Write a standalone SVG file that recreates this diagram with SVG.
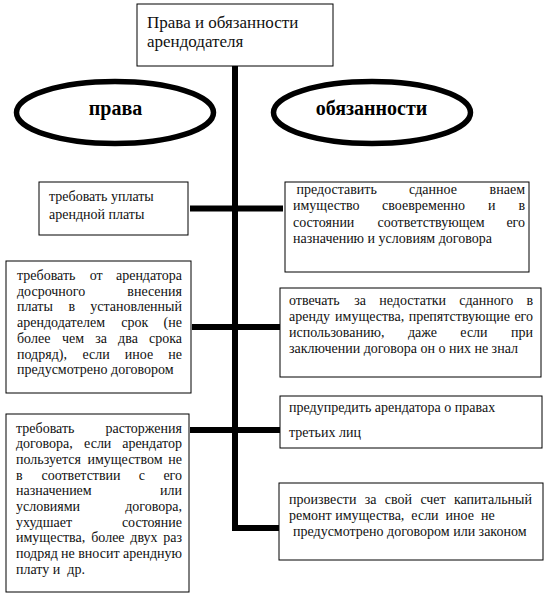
<svg xmlns="http://www.w3.org/2000/svg" width="546" height="596" viewBox="0 0 546 596">
<style>
.box{fill:#fff;stroke:#000;stroke-width:1}
.t{font-family:'Liberation Serif','Tinos','DejaVu Serif','Noto Serif',serif;font-size:14px;fill:#111}
.e{text-anchor:end}
.ttl{font-family:'Liberation Serif','Tinos','DejaVu Serif','Noto Serif',serif;font-size:17px;fill:#111}
.ov{fill:#fff;stroke:#000;stroke-width:5.5}
.ot{font-family:'Liberation Serif','Tinos','DejaVu Serif','Noto Serif',serif;font-size:20px;font-weight:bold;fill:#000;text-anchor:middle}
.conn{fill:none;stroke:#000;stroke-width:6;stroke-linejoin:miter}
</style>
<rect width="546" height="596" fill="#fff"/>
<g id="connectors">
<path class="conn" d="M235 66 V528 H279"/>
<path class="conn" d="M190 208.5 H283"/>
<path class="conn" d="M192 327 H280"/>
<path class="conn" d="M190 430 H280"/>
</g>
<g id="title">
<rect class="box" x="137" y="4" width="196" height="62"/>
<text class="ttl" x="147" y="27.5">Права и обязанности</text>
<text class="ttl" x="147" y="47">арендодателя</text>
</g>
<g id="rights">
<ellipse class="ov" cx="115" cy="112.5" rx="98.5" ry="31"/>
<text class="ot" x="115.5" y="115">права</text>
</g>
<g id="duties">
<ellipse class="ov" cx="372" cy="112.5" rx="98.5" ry="31"/>
<text class="ot" x="371.5" y="115">обязанности</text>
</g>
<g id="left1">
<rect class="box" x="39" y="182" width="149" height="53"/>
<text class="t" x="49" y="201">требовать уплаты</text>
<text class="t" x="49" y="219">арендной платы</text>
</g>
<g id="left2">
<rect class="box" x="6" y="261" width="185" height="132"/>
<text class="t" x="17" y="280">требовать</text>
<text class="t e" x="182" y="280" word-spacing="9.75">от арендатора</text>
<text class="t" x="17" y="295.7">досрочного</text>
<text class="t e" x="182" y="295.7">внесения</text>
<text class="t" x="17" y="311.4">платы</text>
<text class="t e" x="182" y="311.4" word-spacing="11.7">в установленный</text>
<text class="t" x="17" y="327.1">арендодателем</text>
<text class="t e" x="182" y="327.1" word-spacing="11.9">срок (не</text>
<text class="t" x="17" y="342.8">более</text>
<text class="t e" x="182" y="342.8" word-spacing="7.6">чем за два срока</text>
<text class="t" x="17" y="358.5">подряд),</text>
<text class="t e" x="182" y="358.5" word-spacing="11.6">если иное не</text>
<text class="t" x="17" y="374.2">предусмотрено договором</text>
</g>
<g id="left3">
<rect class="box" x="6" y="414" width="183" height="178"/>
<text class="t" x="16" y="432.5">требовать</text>
<text class="t e" x="182" y="432.5">расторжения</text>
<text class="t" x="16" y="448.2">договора,</text>
<text class="t e" x="182" y="448.2" word-spacing="7.3">если арендатор</text>
<text class="t" x="16" y="463.9">пользуется</text>
<text class="t e" x="182" y="463.9" word-spacing="2.2">имуществом не</text>
<text class="t" x="16" y="479.6">в</text>
<text class="t e" x="182" y="479.6" word-spacing="14.8">соответствии с его</text>
<text class="t" x="16" y="495.3">назначением</text>
<text class="t e" x="182" y="495.3">или</text>
<text class="t" x="16" y="511">условиями</text>
<text class="t e" x="182" y="511">договора,</text>
<text class="t" x="16" y="526.7">ухудшает</text>
<text class="t e" x="182" y="526.7">состояние</text>
<text class="t" x="16" y="542.4">имущества,</text>
<text class="t e" x="182" y="542.4" word-spacing="2.2">более двух раз</text>
<text class="t" x="16" y="558.1">подряд</text>
<text class="t e" x="182" y="558.1" word-spacing="0">не вносит арендную</text>
<text class="t" x="16" y="573.8" xml:space="preserve">плату и  др.</text>
</g>
<g id="right1">
<rect class="box" x="285" y="182" width="244" height="90"/>
<text class="t" x="296.5" y="193.5">предоставить</text>
<text class="t e" x="525" y="193.5" word-spacing="29.2">сданное внаем</text>
<text class="t" x="293" y="210">имущество</text>
<text class="t e" x="525" y="210" word-spacing="19.4">своевременно и в</text>
<text class="t" x="293" y="226.5">состоянии</text>
<text class="t e" x="525" y="226.5" word-spacing="18.4">соответствующем его</text>
<text class="t" x="293" y="243">назначению и условиям договора</text>
</g>
<g id="right2">
<rect class="box" x="280" y="288" width="261" height="89"/>
<text class="t" x="289" y="305">отвечать</text>
<text class="t e" x="533" y="305" word-spacing="9.7">за недостатки сданного в</text>
<text class="t" x="289" y="321">аренду</text>
<text class="t e" x="533" y="321" word-spacing="0.9">имущества, препятствующие его</text>
<text class="t" x="289" y="337">использованию,</text>
<text class="t e" x="533" y="337" word-spacing="19.9">даже если при</text>
<text class="t" x="289" y="353">заключении договора он о них не знал</text>
</g>
<g id="right3">
<rect class="box" x="280" y="396" width="262" height="52"/>
<text class="t" x="289" y="412">предупредить арендатора о правах</text>
<text class="t" x="289" y="437">третьих лиц</text>
</g>
<g id="right4">
<rect class="box" x="279" y="483" width="264" height="77"/>
<text class="t" x="289" y="503.5">произвести</text>
<text class="t e" x="532" y="503.5" word-spacing="4.8">за свой счет капитальный</text>
<text class="t" x="289" y="519.5" xml:space="preserve">ремонт имущества,  если  иное  не</text>
<text class="t" x="293" y="535.5">предусмотрено договором или законом</text>
</g>
</svg>
